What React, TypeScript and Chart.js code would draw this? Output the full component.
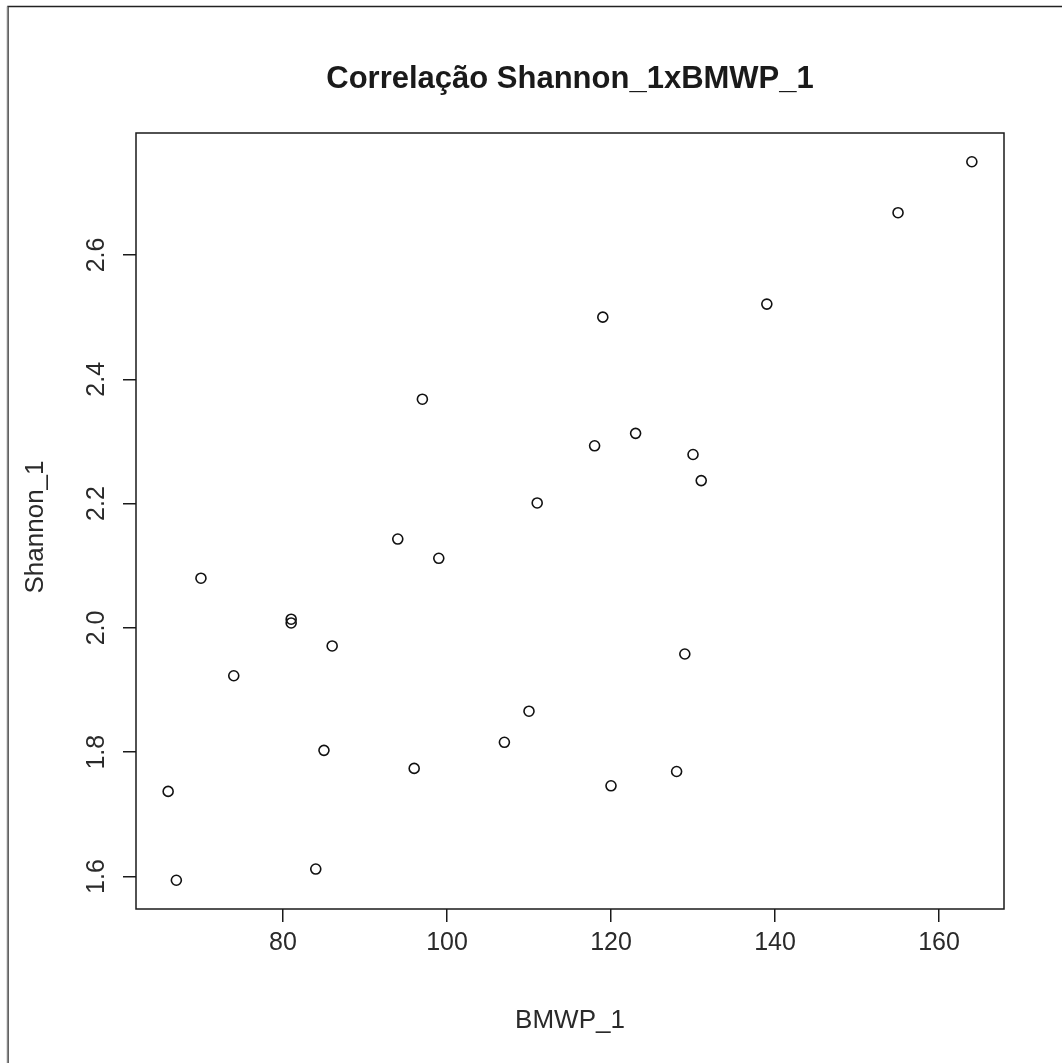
import React, { useEffect, useRef } from "react";
import { Chart, registerables } from "chart.js";

Chart.register(...registerables);

// ---- data ----
const bmwpValues = [164, 155, 139, 119, 97, 123, 118, 130, 131, 111, 94, 99, 70, 81, 81, 86, 74, 129, 110, 107, 85, 96, 128, 120, 66, 67, 84];
const shannonValues = [2.750, 2.668, 2.521, 2.500, 2.368, 2.313, 2.293, 2.279, 2.237, 2.201, 2.143, 2.112, 2.080, 2.014, 2.008, 1.971, 1.923, 1.958, 1.866, 1.816, 1.803, 1.774, 1.769, 1.746, 1.737, 1.594, 1.612];
const xTickValues = [80, 100, 120, 140, 160];
const yTickValues = [1.6, 1.8, 2.0, 2.2, 2.4, 2.6];
const yTickLabels = ["1.6", "1.8", "2.0", "2.2", "2.4", "2.6"];
const titleText = "Correlação Shannon_1xBMWP_1";
const xAxisLabel = "BMWP_1";
const yAxisLabel = "Shannon_1";

const W = 1062;
const H = 1063;
const FONT = "'Liberation Sans', Arial, sans-serif";
const INK = "#1a1a1a";

function rRange(vals: number[]) {
  const mn = Math.min(...vals);
  const mx = Math.max(...vals);
  const e = (mx - mn) * 0.04;
  return [mn - e, mx + e];
}

export default function App() {
  const ref = useRef<HTMLCanvasElement | null>(null);

  useEffect(() => {
    if (!ref.current) return;
    const [xMin, xMax] = rRange(bmwpValues);
    const [yMin, yMax] = rRange(shannonValues);

    const decor = {
      id: "rdecor",
      afterDraw(chart: any) {
        const ctx = chart.ctx;
        const a = chart.chartArea;
        const ys = chart.scales.y;
        ctx.save();
        // plot box
        ctx.strokeStyle = INK;
        ctx.lineWidth = 1.5;
        ctx.strokeRect(a.left, a.top, a.right - a.left, a.bottom - a.top);
        // outer window frame (top + left)
        ctx.strokeStyle = "#222";
        ctx.lineWidth = 1.5;
        ctx.beginPath();
        ctx.moveTo(8, H);
        ctx.lineTo(8, 6.5);
        ctx.lineTo(W, 6.5);
        ctx.stroke();
        ctx.strokeStyle = "#888";
        ctx.beginPath();
        ctx.moveTo(7.5, H);
        ctx.lineTo(7.5, 6.5);
        ctx.stroke();

        ctx.fillStyle = INK;
        // title
        ctx.font = `bold 31px ${FONT}`;
        ctx.textAlign = "center";
        ctx.textBaseline = "middle";
        ctx.fillText(titleText, (a.left + a.right) / 2, 79);
        // x axis label
        ctx.font = `26px ${FONT}`;
        ctx.fillStyle = "#2a2a2a";
        ctx.fillText(xAxisLabel, (a.left + a.right) / 2, 1021);
        // y axis label (rotated)
        ctx.save();
        ctx.translate(36, 527);
        ctx.rotate(-Math.PI / 2);
        ctx.fillText(yAxisLabel, 0, 0);
        ctx.restore();
        // y tick labels (rotated, as in R)
        ctx.font = `25px ${FONT}`;
        yTickValues.forEach((v, i) => {
          const py = ys.getPixelForValue(v);
          ctx.save();
          ctx.translate(97, py);
          ctx.rotate(-Math.PI / 2);
          ctx.fillText(yTickLabels[i], 0, 0);
          ctx.restore();
        });
        ctx.restore();
      },
    };

    const chart = new Chart(ref.current, {
      type: "scatter",
      data: {
        datasets: [
          {
            data: bmwpValues.map((x, i) => ({ x, y: shannonValues[i] })),
            pointStyle: "circle",
            pointRadius: 5,
            pointHoverRadius: 5,
            borderWidth: 1.6,
            borderColor: "#111",
            backgroundColor: "rgba(0,0,0,0)",
          },
        ],
      },
      options: {
        animation: false,
        responsive: false,
        maintainAspectRatio: false,
        events: [],
        layout: { padding: { left: 0, top: 133, right: 58, bottom: 0 } },
        plugins: {
          legend: { display: false },
          tooltip: { enabled: false },
          title: { display: false },
        },
        scales: {
          x: {
            type: "linear",
            min: xMin,
            max: xMax,
            afterBuildTicks: (s: any) => {
              s.ticks = xTickValues.map((v) => ({ value: v }));
            },
            afterFit: (s: any) => {
              s.height = H - 909;
            },
            grid: {
              drawOnChartArea: false,
              drawTicks: true,
              tickLength: 13,
              color: INK,
              lineWidth: 1.5,
            },
            border: { display: false },
            ticks: {
              color: "#2a2a2a",
              font: { family: FONT, size: 25 },
              padding: 6,
              maxRotation: 0,
              minRotation: 0,
              autoSkip: false,
            },
          },
          y: {
            type: "linear",
            min: yMin,
            max: yMax,
            afterBuildTicks: (s: any) => {
              s.ticks = yTickValues.map((v) => ({ value: v }));
            },
            afterFit: (s: any) => {
              s.width = 136;
            },
            grid: {
              drawOnChartArea: false,
              drawTicks: true,
              tickLength: 13,
              color: INK,
              lineWidth: 1.5,
            },
            border: { display: false },
            ticks: { display: false },
          },
        },
      },
      plugins: [decor],
    } as any);

    return () => chart.destroy();
  }, []);

  return (
    <div style={{ position: "absolute", left: 0, top: 0, width: W, height: H, background: "#fff" }}>
      <canvas ref={ref} width={W} height={H} style={{ display: "block", width: W, height: H }} />
    </div>
  );
}
